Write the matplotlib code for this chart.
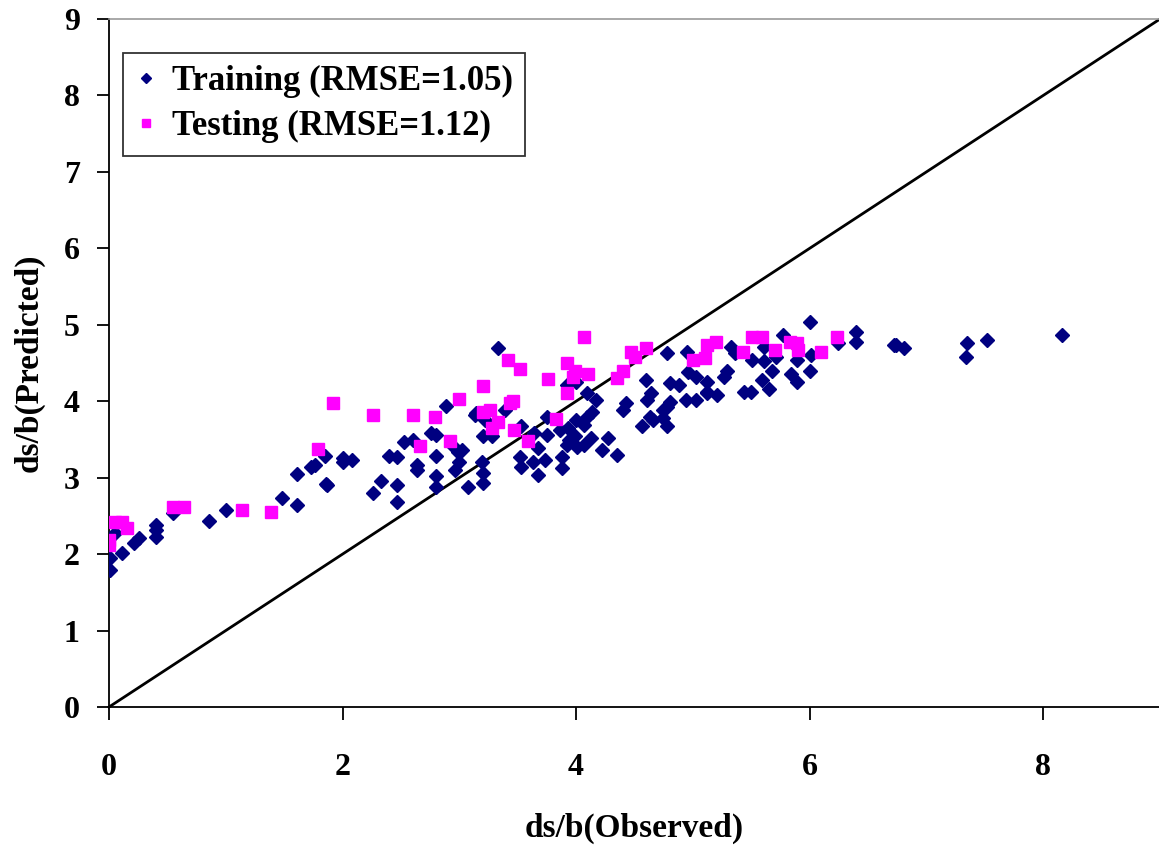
import matplotlib
matplotlib.use("Agg")
import matplotlib.pyplot as plt

train_x = [0.01, 0.01, 0.05, 0.11, 0.21, 0.26, 0.40, 0.40, 0.40, 0.55, 0.86, 1.00, 1.48, 1.61, 1.87, 2.26, 2.33,
           3.33, 2.89, 3.13, 3.22, 2.76, 2.80, 2.53, 2.60, 3.20, 3.28, 2.40, 2.47, 2.80, 2.94, 2.99, 3.00, 2.64, 2.64,
           2.96, 2.80, 2.80, 2.47, 2.47, 3.07, 3.20, 3.20, 1.85, 1.76, 1.73, 2.00, 2.00, 2.08, 1.61, 1.86,
           3.14, 3.39, 3.75, 3.92, 4.00, 4.09, 4.17, 3.53, 3.02, 3.19,
           3.64, 3.75, 3.67, 3.52, 3.53, 3.63, 3.73, 3.67, 3.88, 3.88, 3.86, 3.93, 3.99, 4.01, 4.07, 3.92, 3.94,
           4.00, 4.09, 4.14, 4.07, 4.13, 4.22, 4.27, 4.35, 4.40, 4.43, 4.56, 4.60, 4.64, 4.61, 4.63, 4.66, 4.74,
           4.78, 4.80, 4.80, 4.88, 4.78, 4.74, 4.78, 4.94, 4.95, 4.96, 5.03, 5.03,
           5.12, 5.21,
           6.00, 5.77, 6.40, 6.40, 6.24, 6.72, 5.33, 5.36, 5.61, 5.71, 5.51, 5.61, 5.89, 6.01, 6.00, 5.68, 5.84,
           5.89, 5.59, 5.65, 5.44, 5.50, 5.29, 5.27, 5.12, 5.12,
           6.74, 6.81, 7.35, 7.34, 7.52, 8.16]
train_y = [1.95, 1.79, 2.28, 2.01, 2.15, 2.21, 2.38, 2.32, 2.22, 2.54, 2.43, 2.58, 2.73, 2.64, 2.90, 2.80, 2.95,
           4.70, 3.94, 3.82, 3.76, 3.59, 3.56, 3.47, 3.49, 3.54, 3.54, 3.28, 3.27, 3.28, 3.43, 3.34, 3.21, 3.17, 3.10,
           3.10, 3.02, 2.88, 2.91, 2.68, 2.88, 3.06, 2.93, 3.28, 3.17, 3.14, 3.26, 3.21, 3.23, 3.05, 2.92,
           3.84, 3.89, 3.80, 4.21, 4.25, 4.11, 4.02, 3.68, 3.36, 3.21,
           3.58, 3.56, 3.39, 3.27, 3.14, 3.21, 3.23, 3.04, 3.27, 3.13, 3.63, 3.65, 3.54, 3.40, 3.43, 3.43, 3.49,
           3.76, 3.80, 3.86, 3.69, 3.52, 3.36, 3.52, 3.30, 3.89, 3.98, 3.67, 4.28, 4.11, 4.02, 3.80, 3.76, 3.89,
           3.93, 3.99, 4.24, 4.21, 3.67, 3.78, 4.63, 4.02, 4.65, 4.38, 4.32, 4.02,
           4.11, 4.08,
           5.03, 4.87, 4.90, 4.77, 4.76, 4.74, 4.71, 4.63, 4.71, 4.58, 4.54, 4.52, 4.54, 4.61, 4.39, 4.39, 4.36,
           4.25, 4.28, 4.16, 4.12, 4.12, 4.39, 4.32, 4.25, 4.12,
           4.73, 4.70, 4.76, 4.58, 4.80, 4.87]

test_x = [0.00, 0.00, 0.05, 0.11, 0.15, 0.55, 0.64, 1.14, 1.39,
          1.92, 2.26, 2.60, 2.79, 3.00, 3.20, 3.20, 3.26, 3.28, 2.92, 2.66, 1.79,
          4.07, 3.42, 3.52, 3.92, 3.99, 4.10, 3.97, 3.76, 3.92, 4.47, 4.50, 4.60, 4.35, 4.40, 5.00,
          3.46, 3.43, 3.33, 3.47, 3.83, 3.59,
          5.10, 5.12, 5.20, 5.43, 5.51, 5.59, 5.70, 5.83, 5.89, 5.90, 6.10, 6.23]
test_y = [2.18, 2.12, 2.42, 2.42, 2.34, 2.61, 2.61, 2.58, 2.55,
          3.98, 3.82, 3.82, 3.79, 4.03, 4.20, 3.86, 3.89, 3.65, 3.48, 3.42, 3.38,
          4.84, 4.54, 4.42, 4.50, 4.39, 4.35, 4.32, 4.29, 4.11, 4.65, 4.58, 4.69, 4.31, 4.39, 4.54,
          4.00, 3.98, 3.73, 3.63, 3.77, 3.48,
          4.57, 4.74, 4.77, 4.65, 4.84, 4.84, 4.67, 4.78, 4.76, 4.67, 4.65, 4.84]

x_ticks = [0, 2, 4, 6, 8]
y_ticks = [0, 1, 2, 3, 4, 5, 6, 7, 8, 9]
line_xy = [0, 9]

plt.rcParams['font.family'] = ['Liberation Serif', 'DejaVu Serif']
plt.rcParams['font.weight'] = 'bold'

fig = plt.figure(figsize=(11.59, 8.52), dpi=100)
ax = fig.add_axes([109/1159, 1 - 707/852, (1160 - 109)/1159, (707 - 19)/852])

ax.plot(line_xy, line_xy, color='black', lw=2.0, zorder=2, clip_on=False)
ax.plot(train_x, train_y, linestyle='none', marker='D', ms=7.5, color='#000080',
        mec='#000080', label='Training (RMSE=1.05)', zorder=3)
ax.plot(test_x, test_y, linestyle='none', marker='s', ms=8.5, color='#FF00FF',
        mec='#FF00FF', label='Testing (RMSE=1.12)', zorder=4)

ax.set_xlim(0, 9)
ax.set_ylim(0, 9)
ax.set_xticks(x_ticks)
ax.set_yticks(y_ticks)
ax.tick_params(axis='x', direction='out', length=9, width=1.3, pad=24, labelsize=23)
ax.tick_params(axis='y', direction='out', length=9, width=1.3, pad=12, labelsize=23)
for lab in ax.get_xticklabels() + ax.get_yticklabels():
    lab.set_fontweight('bold')

ax.spines['right'].set_visible(False)
ax.spines['top'].set_color('#999999')
ax.spines['top'].set_linewidth(1.2)
ax.spines['left'].set_linewidth(1.3)
ax.spines['bottom'].set_linewidth(1.3)

ax.set_xlabel('ds/b(Observed)', fontsize=24, fontweight='bold', labelpad=22)
ax.set_ylabel('ds/b(Predicted)', fontsize=24, fontweight='bold', labelpad=14)

leg = ax.legend(loc='upper left', bbox_to_anchor=(14/1051, 1 - 34/688),
                frameon=True, fancybox=False, edgecolor='black', handlelength=0.6,
                handletextpad=0.45, borderpad=0.35, labelspacing=0.35, markerscale=0.65,
                borderaxespad=0.0, prop={'weight': 'bold', 'size': 25})
leg.get_frame().set_linewidth(1.3)

fig.savefig('out.png', dpi=100)
